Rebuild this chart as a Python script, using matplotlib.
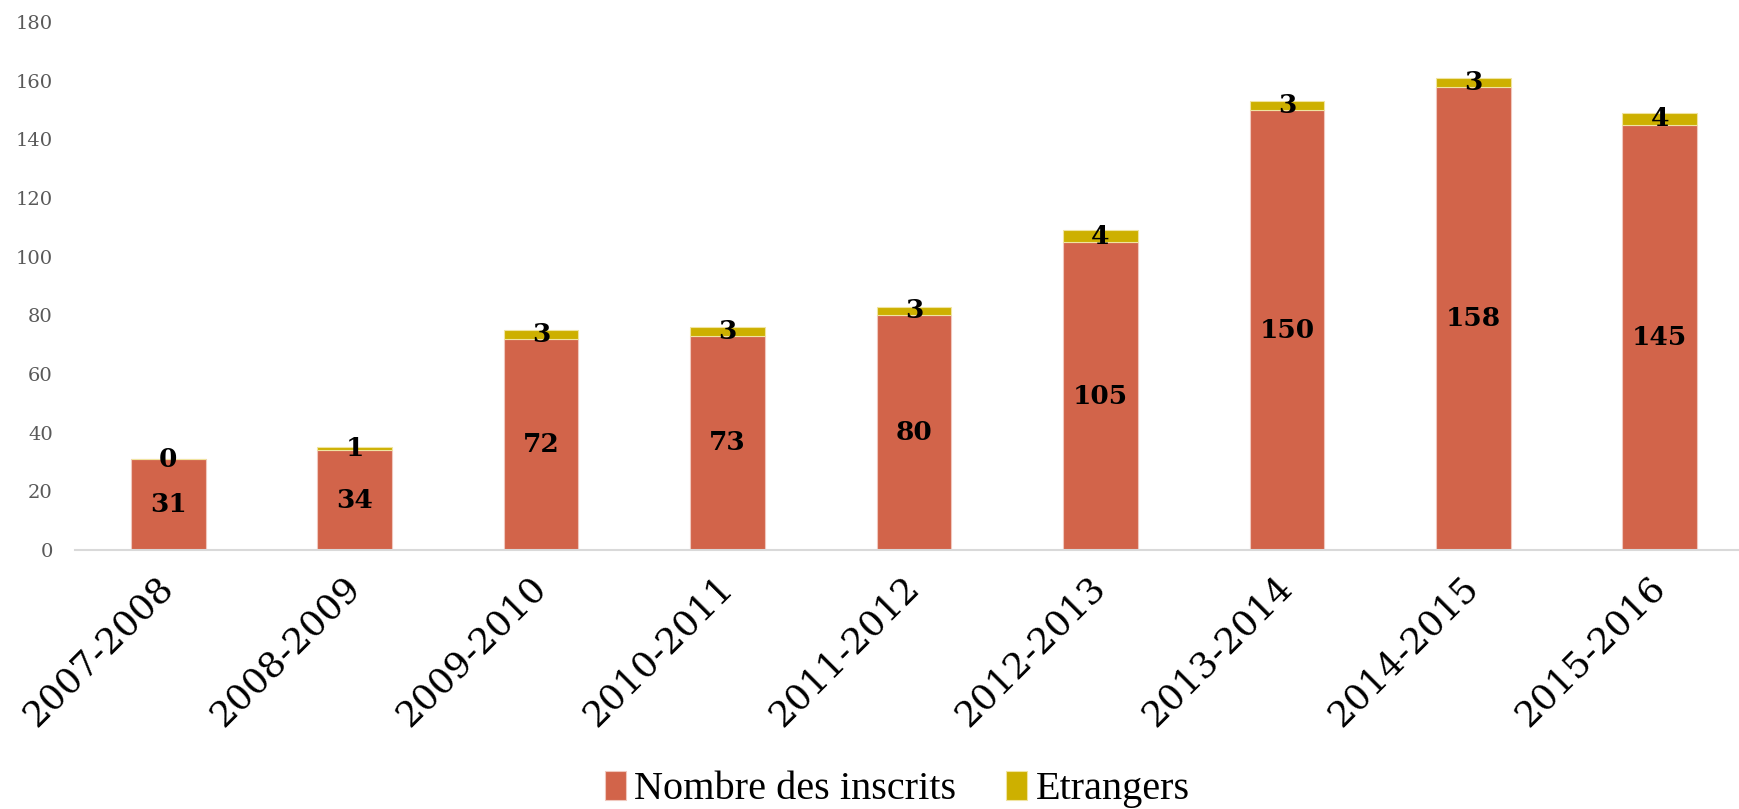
import numpy as np
import matplotlib
matplotlib.use('Agg')
import matplotlib.pyplot as plt
from matplotlib.transforms import ScaledTranslation

# 数据
annees = ['2007-2008', '2008-2009', '2009-2010', '2010-2011', '2011-2012',
          '2012-2013', '2013-2014', '2014-2015', '2015-2016']
inscrits = [31, 34, 72, 73, 80, 105, 150, 158, 145]
etrangers = [0, 1, 3, 3, 3, 4, 3, 3, 4]

rouge = '#D2644A'
jaune = '#CDB000'

fig = plt.figure(figsize=(17.39, 8.09), dpi=100)
ax = fig.add_axes([75 / 1739, 259 / 809, (1753 - 75) / 1739, (550 - 22) / 809])

x = np.arange(len(annees))
largeur = 0.40

b1 = ax.bar(x, inscrits, largeur, color=rouge, edgecolor='#F0C8BE', linewidth=0.8,
            label='Nombre des inscrits', zorder=2)
b2 = ax.bar(x, etrangers, largeur, bottom=inscrits, color=jaune, edgecolor='#F0E4A0',
            linewidth=0.8, label='Etrangers', zorder=2)

# 数据标签
for xi, v, e in zip(x, inscrits, etrangers):
    ax.text(xi, v / 2, str(v), ha='center', va='center', fontsize=19,
            fontweight='bold', family='DejaVu Serif', color='black', zorder=3)
    ax.text(xi, v + e / 2, str(e), ha='center', va='center', fontsize=19,
            fontweight='bold', family='DejaVu Serif', color='black', zorder=3)

ax.set_ylim(0, 180)
ax.set_yticks(np.arange(0, 181, 20))
ax.set_xlim(-0.5, 8.5)

for s in ['top', 'right', 'left']:
    ax.spines[s].set_visible(False)
ax.spines['bottom'].set_color('#D9D9D9')
ax.spines['bottom'].set_linewidth(1.5)

ax.tick_params(axis='y', length=0, pad=16, labelsize=14, labelcolor='#595959')
ax.tick_params(axis='x', length=0, pad=14)
for lab in ax.get_yticklabels():
    lab.set_family('DejaVu Serif')

ax.set_xticks(x)
ax.set_xticklabels(annees, rotation=45, ha='right', fontsize=26,
                   family='DejaVu Serif', color='black')
decalage = ScaledTranslation(12 / 100, 0, fig.dpi_scale_trans)
for lab in ax.get_xticklabels():
    lab.set_transform(lab.get_transform() + decalage)

fig.legend(handles=[b1, b2], loc='center', bbox_to_anchor=(0.516, 0.024), ncol=2,
           frameon=False, prop={'family': 'Liberation Serif', 'size': 29},
           handlelength=0.52, handleheight=0.72, handletextpad=0.2,
           columnspacing=1.25)

fig.savefig('out.png', dpi=100)
